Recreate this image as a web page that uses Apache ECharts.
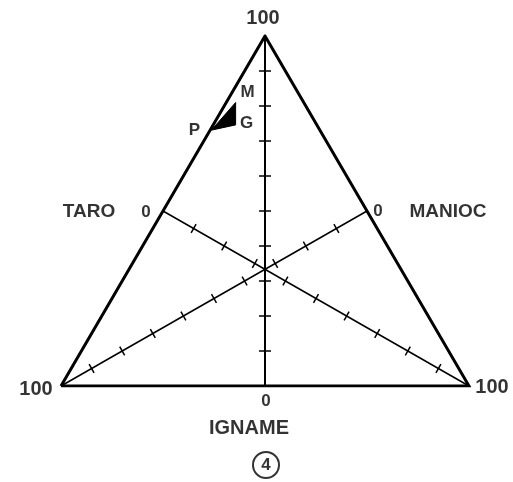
<!DOCTYPE html>
<html>
<head>
<meta charset="utf-8">
<script src="https://cdn.jsdelivr.net/npm/echarts@6/dist/echarts.min.js"></script>
<style>
  html, body { margin: 0; padding: 0; background: #fff; }
  #chart { width: 513px; height: 482px; }
</style>
</head>
<body>
<div id="chart"></div>
<script>
// Ternary diagram: shares (%) of igname, manioc and taro.
const componentNames = ['IGNAME', 'MANIOC', 'TARO'];
const tickPercents = [10, 20, 30, 40, 50, 60, 70, 80, 90];
const cornerLabel = '100';
const zeroLabel = '0';
const figureNumber = '4';

// Sample compositions, percent
const sampleNames  = ['M', 'G', 'P'];
const sampleIgname = [81.0, 74.6, 73.1];
const sampleManioc = [16.7, 19.9, 26.6];
const sampleTaro   = [2.3, 5.5, 0.3];

// Barycentric -> cartesian in a unit triangle:
// manioc corner (0,0), taro corner (1,0), igname corner (0.5,1)
function toXY(ig, ma, ta) {
  const s = ig + ma + ta;
  return [(0.5 * ig + ta) / s, ig / s];
}

const FONT = '"Liberation Sans", Arial, sans-serif';

const cornerIgname = toXY(100, 0, 0);
const cornerManioc = toXY(0, 100, 0);
const cornerTaro   = toXY(0, 0, 100);

// Each median runs from the component's 0 % line (midpoint) to its 100 % corner
const medians = [
  { at: p => toXY(p, (100 - p) / 2, (100 - p) / 2), tick: 6 },   // igname
  { at: p => toXY((100 - p) / 2, (100 - p) / 2, p), tick: 5 },   // taro
  { at: p => toXY((100 - p) / 2, p, (100 - p) / 2), tick: 5 }    // manioc
];

const medianLines = medians.map(m => [m.at(0), m.at(100)]);

// tick data: point, direction of its median, half length
const tickData = [];
medians.forEach(m => {
  const a = m.at(0), b = m.at(100);
  tickPercents.forEach(p => {
    const q = m.at(p);
    tickData.push([q[0], q[1], b[0] - a[0], b[1] - a[1], m.tick]);
  });
});

const samplePoints = sampleNames.map((n, i) => toXY(sampleIgname[i], sampleManioc[i], sampleTaro[i]));

// label placement (pixels, relative to the anchor point)
const sampleLabelOffsets = { M: [12, -10], G: [11, -2], P: [-17, 0] };

const textLabels = [
  { value: cornerIgname, text: cornerLabel, offset: [-2, -18], size: 20 },
  { value: cornerManioc, text: cornerLabel, offset: [-25, 3], size: 20 },
  { value: cornerTaro,   text: cornerLabel, offset: [23, 1], size: 20 },
  { value: medians[0].at(0), text: zeroLabel, offset: [1, 15], size: 17 },
  { value: medians[0].at(0), text: componentNames[0], offset: [-16, 42], size: 20 },
  { value: medians[1].at(0), text: zeroLabel, offset: [-17, 1], size: 17 },
  { value: medians[1].at(0), text: componentNames[2], offset: [-74, 1], size: 19 },
  { value: medians[2].at(0), text: zeroLabel, offset: [11, 0], size: 17 },
  { value: medians[2].at(0), text: componentNames[1], offset: [81, 1], size: 19 }
];

const chart = echarts.init(document.getElementById('chart'));

chart.setOption({
  animation: false,
  backgroundColor: '#fff',
  grid: { left: 61, top: 36, width: 408, height: 350 },
  xAxis: { type: 'value', min: 0, max: 1, show: false },
  yAxis: { type: 'value', min: 0, max: 1, show: false },
  series: [
    // outer triangle
    {
      type: 'line',
      data: [cornerManioc, cornerTaro, cornerIgname, cornerManioc],
      symbol: 'none',
      lineStyle: { color: '#000', width: 3, join: 'miter' },
      z: 3
    },
    // medians
    ...medianLines.map((seg, i) => ({
      type: 'line',
      data: seg,
      symbol: 'none',
      lineStyle: { color: '#000', width: i === 0 ? 2 : 1.5 },
      z: 2
    })),
    // tick marks across the medians
    {
      type: 'custom',
      data: tickData,
      z: 2,
      renderItem: function (params, api) {
        const p = api.coord([api.value(0), api.value(1)]);
        const q = api.coord([api.value(0) + api.value(2) * 0.01, api.value(1) + api.value(3) * 0.01]);
        let dx = q[0] - p[0], dy = q[1] - p[1];
        const len = Math.sqrt(dx * dx + dy * dy);
        dx /= len; dy /= len;
        const h = api.value(4);
        return {
          type: 'line',
          shape: { x1: p[0] - dy * h, y1: p[1] + dx * h, x2: p[0] + dy * h, y2: p[1] - dx * h },
          style: { stroke: '#000', lineWidth: 1.5 }
        };
      }
    },
    // sample field
    {
      type: 'custom',
      data: [0],
      z: 4,
      renderItem: function (params, api) {
        const pts = samplePoints.map(pt => api.coord(pt));
        return {
          type: 'polygon',
          shape: { points: pts },
          style: { fill: '#000', stroke: '#000', lineWidth: 1 }
        };
      }
    },
    // sample labels
    {
      type: 'scatter',
      symbolSize: 0,
      z: 5,
      data: sampleNames.map((n, i) => ({
        value: samplePoints[i],
        label: {
          show: true, formatter: n, position: 'inside',
          offset: sampleLabelOffsets[n],
          fontFamily: FONT, fontSize: 17, fontWeight: 'bold', color: '#000'
        }
      }))
    },
    // axis end values and component names
    {
      type: 'scatter',
      symbolSize: 0,
      z: 5,
      data: textLabels.map(t => ({
        value: t.value,
        label: {
          show: true, formatter: t.text, position: 'inside', offset: t.offset,
          fontFamily: FONT, fontSize: t.size, fontWeight: 'bold', color: '#000'
        }
      }))
    },
    // figure number
    {
      type: 'scatter',
      symbol: 'circle',
      symbolSize: 26,
      symbolOffset: [1, 79],
      itemStyle: { color: '#fff', borderColor: '#000', borderWidth: 2 },
      z: 5,
      data: [{
        value: medians[0].at(0),
        label: {
          show: true, formatter: figureNumber, position: 'inside',
          fontFamily: FONT, fontSize: 17, fontWeight: 'bold', color: '#000'
        }
      }]
    }
  ]
});
</script>
</body>
</html>
